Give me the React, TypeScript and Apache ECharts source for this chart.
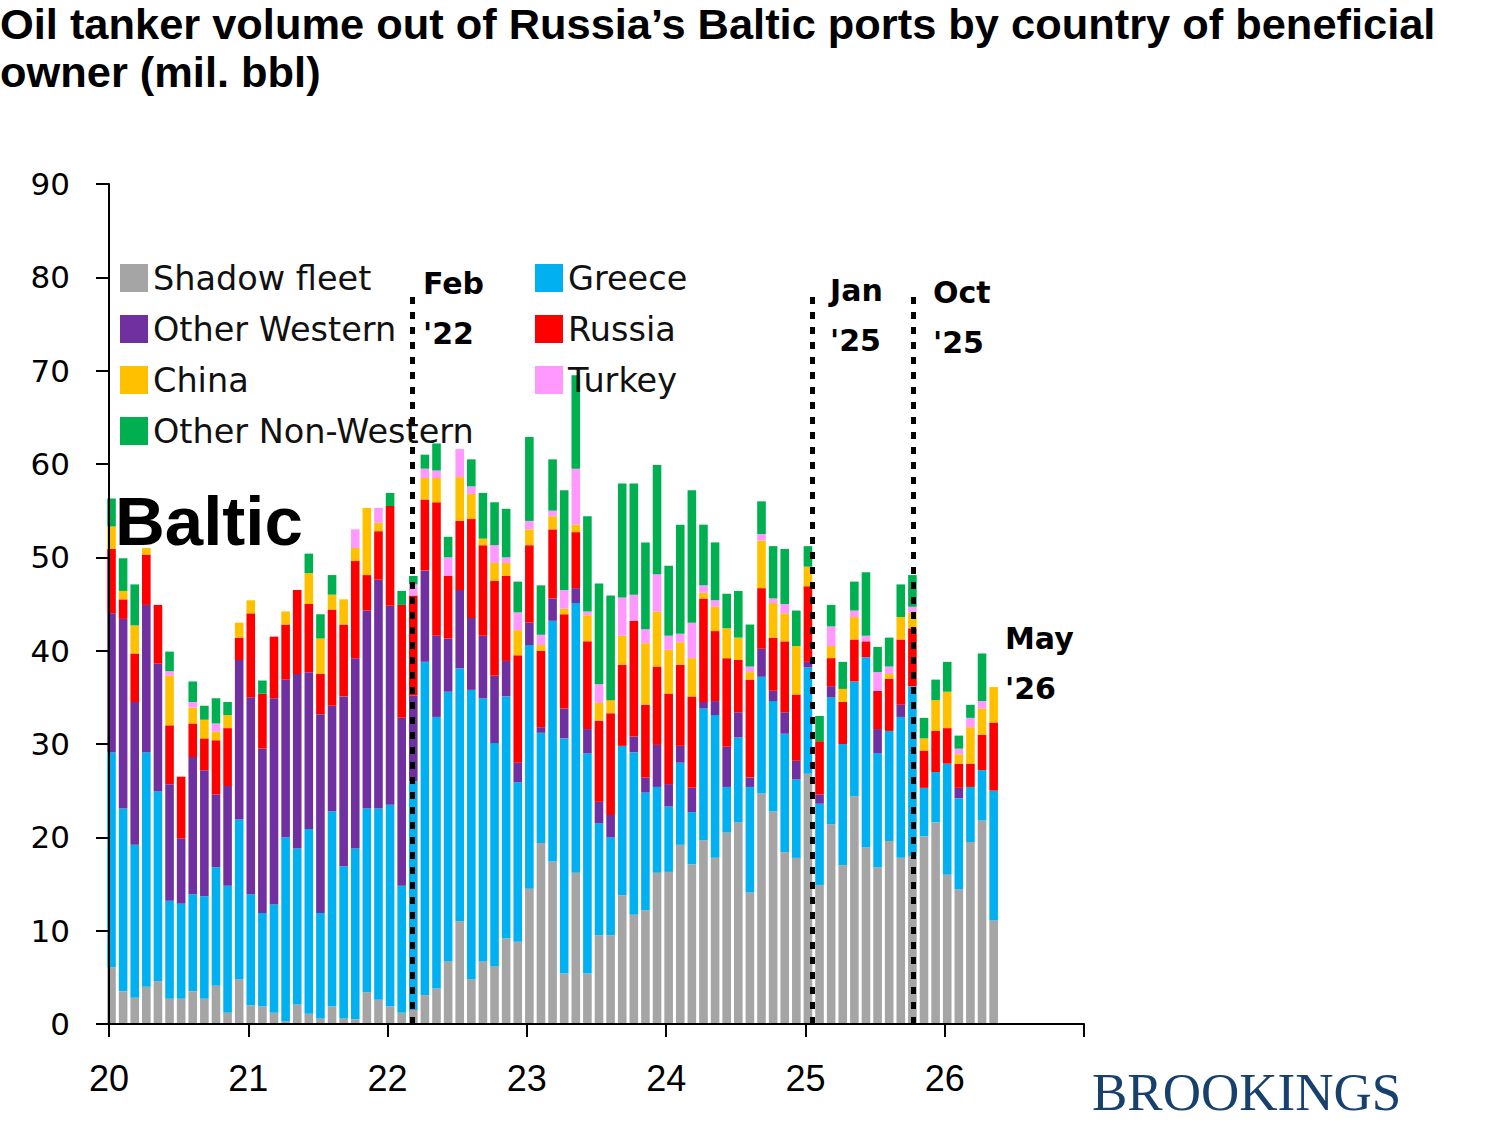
import React, { useEffect, useRef } from "react";
import * as echarts from "echarts";

// Month categories Jan 2020 .. Dec 2026 (bars only through May 2026)
const yearsFull = [2020, 2021, 2022, 2023, 2024, 2025, 2026];
const categories: string[] = [];
yearsFull.forEach((y) => {
  for (let m = 1; m <= 12; m++) categories.push(`${y}-${m < 10 ? "0" + m : m}`);
});

// Series values (mil. bbl), one value per month from Jan 2020 to May 2026
const shadowFleet = [
  6.1, 3.5, 2.8, 4.0, 4.6, 2.7, 2.7, 3.5, 2.7, 4.1, 1.2, 4.8,
  2.0, 1.9, 1.2, 0.3, 2.1, 1.1, 0.6, 1.9, 0.6, 0.5, 3.4, 2.6,
  1.9, 1.2, 1.5, 3.1, 3.8, 6.7, 11.0, 4.8, 6.7, 6.2, 9.2, 8.8,
  14.5, 19.4, 17.4, 5.4, 16.2, 5.4, 9.5, 9.5, 13.8, 11.7, 12.2, 16.2,
  16.3, 19.2, 17.1, 19.7, 17.8, 20.5, 21.6, 14.1, 24.7, 22.8, 18.4, 17.8,
  26.8, 14.9, 21.4, 17.0, 24.4, 18.9, 16.8, 19.6, 17.8, 18.0, 20.1, 21.6,
  16.0, 14.4, 19.5, 21.8, 11.1,
];
const greece = [
  23.0, 19.6, 16.4, 25.1, 20.3, 10.5, 10.2, 10.4, 11.0, 12.7, 13.6, 17.1,
  11.9, 10.0, 11.6, 19.7, 16.7, 19.8, 11.3, 20.9, 16.3, 18.3, 19.7, 20.5,
  21.6, 13.6, 24.5, 35.7, 29.1, 28.9, 27.1, 31.0, 28.2, 23.9, 25.9, 17.1,
  26.1, 11.8, 25.8, 25.2, 28.9, 23.6, 12.0, 10.5, 16.0, 17.4, 12.6, 9.2,
  7.0, 8.8, 5.6, 14.1, 15.3, 4.9, 9.1, 11.3, 12.5, 11.8, 12.7, 8.4,
  11.4, 8.7, 13.6, 13.0, 12.3, 20.4, 12.2, 11.8, 15.1, 18.2, 5.2, 5.4,
  11.9, 9.8, 5.9, 5.4, 13.9,
];
const otherWestern = [
  14.9, 20.3, 15.3, 15.8, 13.7, 12.5, 7.0, 14.7, 13.5, 7.8, 10.7, 17.1,
  21.1, 17.6, 22.1, 16.9, 18.7, 16.8, 21.3, 11.3, 18.2, 20.4, 21.2, 24.5,
  21.3, 18.0, 9.2, 9.8, 8.7, 5.7, 8.4, 7.7, 6.7, 7.2, 3.8, 2.1,
  2.4, 0.6, 2.4, 3.2, 1.6, 2.6, 2.3, 2.4, 0, 1.7, 1.6, 4.5,
  2.4, 1.8, 2.6, 0.7, 1.5, 4.3, 2.7, 1.0, 3.0, 1.1, 2.3, 2.0,
  0.6, 1.0, 1.2, 0, 0, 0, 2.6, 0, 1.3, 0, 0, 0,
  0, 1.1, 0, 0, 0,
];
const russia = [
  6.9, 2.1, 5.2, 5.4, 6.3, 6.3, 6.6, 3.6, 3.4, 5.8, 6.2, 2.4,
  9.0, 5.9, 6.6, 5.9, 9.0, 7.3, 4.3, 10.3, 7.7, 10.4, 3.8, 5.2,
  10.7, 12.1, 10.7, 7.6, 14.3, 6.7, 7.4, 10.6, 9.7, 10.2, 9.1, 11.5,
  8.3, 8.2, 7.4, 10.1, 6.0, 9.4, 8.7, 10.9, 8.7, 12.4, 7.8, 8.4,
  9.7, 8.7, 9.8, 11.1, 7.5, 9.5, 5.6, 10.5, 6.5, 5.7, 7.6, 7.1,
  8.1, 5.7, 3.0, 4.5, 4.5, 1.7, 4.1, 5.6, 7.0, 6.2, 4.0, 4.4,
  3.8, 2.6, 2.5, 3.8, 7.3,
];
const china = [
  2.4, 0.9, 3.0, 0.7, 0, 5.3, 0, 1.7, 2.0, 0.9, 1.4, 1.6,
  1.4, 0, 0, 1.4, 0, 3.3, 3.8, 1.6, 2.7, 1.4, 7.2, 0.9,
  0, 0, 0, 2.3, 2.6, 0, 4.7, 2.7, 0.7, 1.9, 1.4, 2.7,
  1.7, 0.6, 1.4, 0.6, 0.8, 2.8, 1.9, 1.4, 3.1, 0, 6.6, 5.9,
  4.7, 2.4, 4.1, 0.6, 2.6, 3.2, 2.4, 0.8, 5.1, 3.7, 3.0, 5.2,
  2.1, 0, 1.3, 1.4, 2.4, 0, 0, 0.5, 2.4, 1.7, 1.3, 3.3,
  3.9, 1.0, 3.9, 2.8, 3.8,
];
const turkey = [
  0, 0, 0, 0, 0, 0.5, 0, 0.6, 0, 0.9, 0, 0,
  0, 0, 0, 0, 0, 0, 0, 0, 0, 2.0, 0, 1.6,
  0, 0, 1.2, 1.0, 0.8, 2.0, 3.0, 0.8, 0, 1.9, 0.6, 1.9,
  0.9, 1.1, 0.6, 2.0, 6.0, 0.4, 2.0, 0, 4.1, 2.8, 1.5, 4.0,
  1.5, 0.9, 3.8, 0.8, 0.7, 0, 0, 0.6, 0.7, 0.5, 1.0, 0,
  0, 0, 2.1, 0, 0.7, 0.6, 2.0, 0.8, 0, 0.6, 0, 0,
  0, 0.6, 1.0, 0.8, 0,
];
const otherNonWestern = [
  3.0, 3.5, 4.4, 0, 0, 2.1, 0, 2.2, 1.5, 2.7, 1.4, 0,
  0, 1.4, 0, 0, 0, 2.1, 2.6, 2.1, 0, 0, 0, 0,
  1.4, 1.5, 0.9, 1.5, 2.9, 2.2, 0, 2.9, 4.9, 4.6, 5.2, 3.3,
  9.0, 5.3, 5.5, 10.7, 10.0, 10.2, 10.8, 11.2, 12.2, 11.9, 9.3, 11.7,
  7.5, 11.7, 14.2, 6.5, 6.2, 3.7, 5.0, 4.5, 3.5, 5.6, 5.9, 3.8,
  2.2, 2.7, 2.3, 2.9, 3.1, 6.8, 2.7, 3.1, 3.5, 3.4, 2.2, 2.2,
  3.2, 1.4, 1.4, 5.1, 0,
];

const seriesNames = ["Shadow fleet", "Greece", "Other Western", "Russia", "China", "Turkey", "Other Non-Western"];
const seriesValues = [shadowFleet, greece, otherWestern, russia, china, turkey, otherNonWestern];
const seriesColors = ["#A5A5A5", "#00B0F0", "#7030A0", "#FF0000", "#FFC000", "#FF99FF", "#00B050"];

const legendLeft = ["Shadow fleet", "Other Western", "China", "Other Non-Western"];
const legendRight = ["Greece", "Russia", "Turkey"];

// Event markers (x position in years since 2000) and their labels
const eventLines = [22.175, 25.047, 25.772];
const eventTop = 78.4;
const eventLabels = [
  { lines: ["Feb", "'22"], x: 423, y: 283 },
  { lines: ["Jan", "'25"], x: 830, y: 290 },
  { lines: ["Oct", "'25"], x: 933, y: 292 },
  { lines: ["May", "'26"], x: 1005, y: 638 },
];

const xTicks = { min: 20, max: 27, interval: 1 };
const yTicks = { min: 0, max: 90, interval: 10 };

export default function App() {
  const ref = useRef<HTMLDivElement>(null);
  useEffect(() => {
    document.body.style.margin = "0";
    const chart = echarts.init(ref.current as HTMLDivElement, null, { renderer: "svg" });

    const barSeries = seriesNames.map((name, i) => ({
      name,
      type: "bar",
      xAxisIndex: 1,
      yAxisIndex: 1,
      stack: "total",
      barWidth: 8.6,
      data: categories.map((_, k) => (k < seriesValues[i].length ? seriesValues[i][k] : null)),
      itemStyle: { color: seriesColors[i] },
      emphasis: { disabled: true },
      z: 2,
    }));

    const graphics: any[] = [];
    eventLabels.forEach((ev) => {
      ev.lines.forEach((t, j) => {
        graphics.push({
          type: "text",
          x: ev.x,
          y: ev.y + j * 50,
          z: 20,
          style: {
            text: t,
            font: "bold 30px 'DejaVu Sans'",
            fill: "#000",
            verticalAlign: "middle",
            align: "left",
          },
        });
      });
    });
    graphics.push({
      type: "text",
      x: 115,
      y: 521,
      z: 20,
      style: {
        text: "Baltic",
        font: "bold 69px 'Liberation Sans'",
        fill: "#000",
        verticalAlign: "middle",
        align: "left",
      },
    });
    graphics.push({
      type: "text",
      x: 1092,
      y: 1092,
      z: 20,
      style: {
        text: "BROOKINGS",
        font: "53px 'Liberation Serif'",
        fill: "#17406D",
        verticalAlign: "middle",
        align: "left",
      },
    });

    const legendCommon = {
      orient: "vertical",
      top: 261,
      padding: 0,
      itemWidth: 28,
      itemHeight: 28,
      itemGap: 17,
      icon: "rect",
      selectedMode: false,
      textStyle: { fontSize: 33.5, fontFamily: "DejaVu Sans", color: "#111" },
    };

    const option: any = {
      animation: false,
      backgroundColor: "#fff",
      title: {
        text: "Oil tanker volume out of Russia\u2019s Baltic ports by country of beneficial\nowner (mil. bbl)",
        left: 0,
        top: 0,
        padding: 0,
        textStyle: {
          fontSize: 43.4,
          fontWeight: "bold",
          fontFamily: "Liberation Sans",
          lineHeight: 48,
          color: "#000",
        },
      },
      legend: [
        { ...legendCommon, left: 120, data: legendLeft },
        { ...legendCommon, left: 535, data: legendRight },
      ],
      grid: [
        { left: 109, top: 184, width: 975, height: 840 },
        { left: 105.7, top: 184, width: 975, height: 840 },
      ],
      xAxis: [
        {
          type: "value",
          gridIndex: 0,
          min: xTicks.min,
          max: xTicks.max,
          interval: xTicks.interval,
          z: 5,
          axisLine: { show: true, lineStyle: { color: "#000", width: 2 } },
          axisTick: { show: true, length: 13, lineStyle: { color: "#000", width: 2 } },
          axisLabel: {
            formatter: (v: number) => (v >= 27 ? "" : String(v)),
            fontSize: 36,
            fontFamily: "Liberation Sans",
            color: "#000",
            margin: 36,
          },
          splitLine: { show: false },
        },
        { type: "category", gridIndex: 1, data: categories, show: false },
      ],
      yAxis: [
        {
          type: "value",
          gridIndex: 0,
          min: yTicks.min,
          max: yTicks.max,
          interval: yTicks.interval,
          z: 5,
          axisLine: { show: true, lineStyle: { color: "#000", width: 2 } },
          axisTick: { show: true, length: 13, lineStyle: { color: "#000", width: 2 } },
          axisLabel: { fontSize: 31, fontFamily: "DejaVu Sans", color: "#000", margin: 39 },
          splitLine: { show: false },
        },
        { type: "value", gridIndex: 1, min: 0, max: 90, show: false },
      ],
      series: [
        ...barSeries,
        {
          name: "events",
          type: "line",
          xAxisIndex: 0,
          yAxisIndex: 0,
          data: [[20, 0]],
          showSymbol: false,
          symbol: "none",
          lineStyle: { opacity: 0 },
          silent: true,
          z: 10,
          markLine: {
            silent: true,
            symbol: ["none", "none"],
            label: { show: false },
            lineStyle: { color: "#000", width: 5, type: [7, 8] },
            data: eventLines.map((x) => [{ coord: [x, 0] }, { coord: [x, eventTop] }]),
          },
        },
      ],
      graphic: graphics,
    };

    chart.setOption(option);
    return () => chart.dispose();
  }, []);

  return <div ref={ref} style={{ position: "absolute", left: 0, top: 0, width: 1500, height: 1125 }} />;
}
